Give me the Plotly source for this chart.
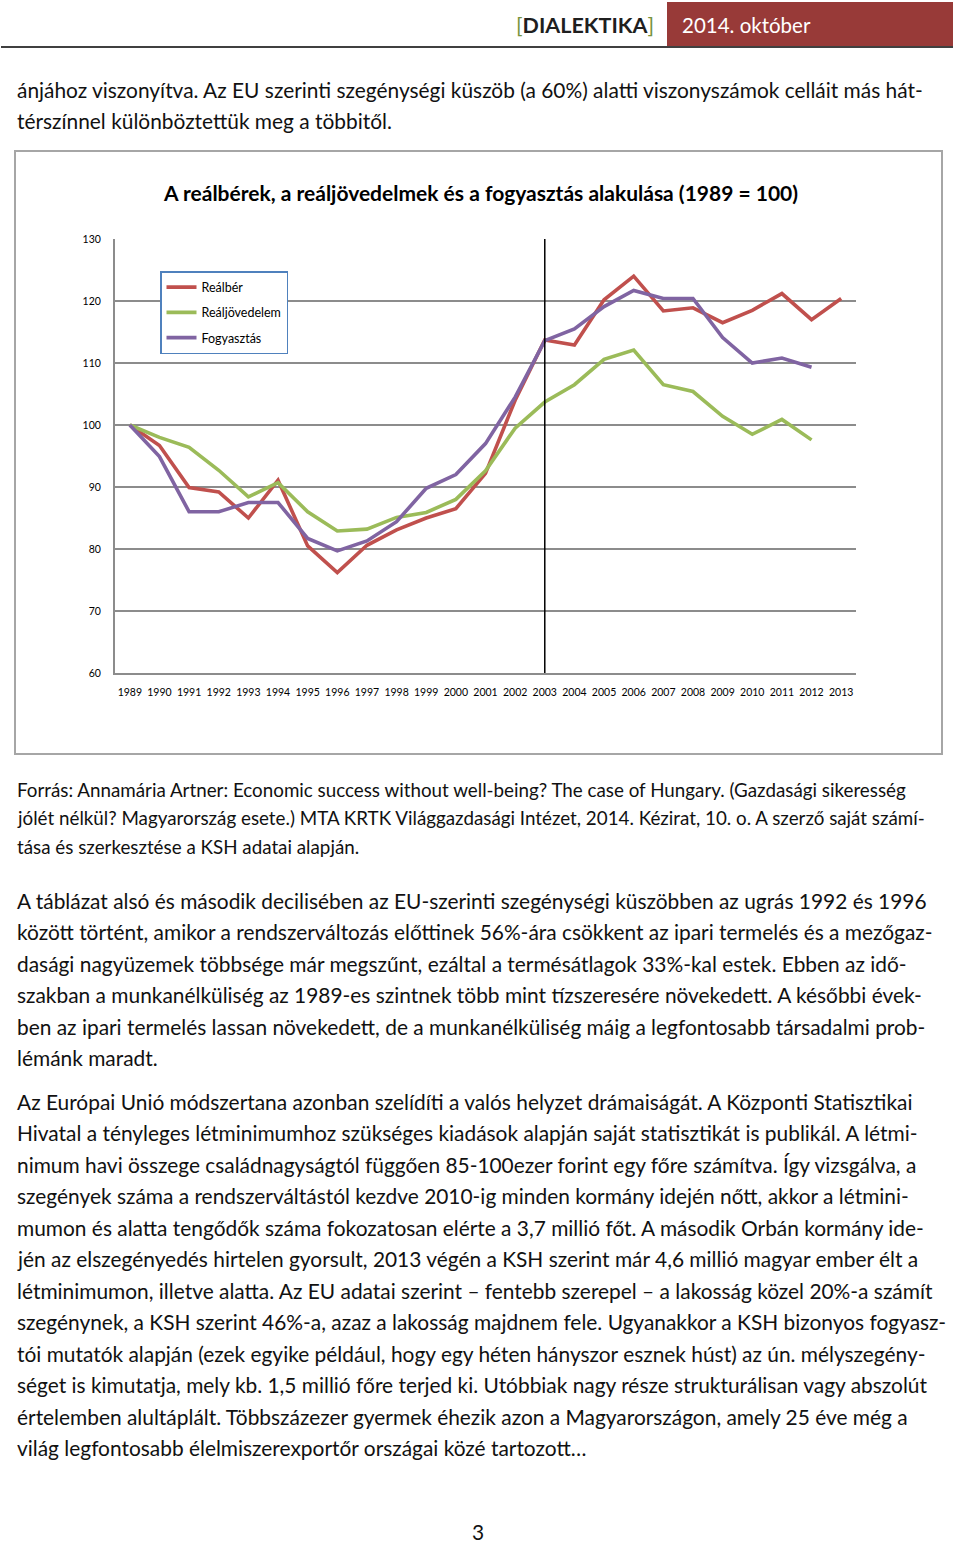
import plotly.graph_objects as go

# ---------------- data ----------------
YEARS = [str(y) for y in range(1989, 2014)]
REALBER = [100, 96.7, 89.9, 89.2, 85.0, 91.1, 80.5, 76.2, 80.6, 83.1, 85.0, 86.5,
           92.2, 104.0, 113.7, 112.9, 120.2, 124.0, 118.4, 118.9, 116.5, 118.5,
           121.2, 117.0, 120.4]
REALJOVEDELEM = [100, 98.0, 96.4, 92.7, 88.4, 90.7, 86.0, 82.9, 83.2, 85.1, 85.9, 88.0,
                 92.6, 99.5, 103.7, 106.5, 110.6, 112.1, 106.5, 105.4, 101.4, 98.5,
                 100.9, 97.6, None]
FOGYASZTAS = [100, 94.9, 86.0, 86.0, 87.5, 87.5, 81.7, 79.7, 81.3, 84.4, 89.8, 92.0,
              97.0, 104.5, 113.6, 115.5, 119.1, 121.7, 120.4, 120.4, 114.1, 110.0,
              110.8, 109.3, None]
SERIES_NAMES = ["Reálbér", "Reáljövedelem", "Fogyasztás"]
SERIES_COLORS = ["#C0504D", "#9BBB59", "#8064A2"]
Y_TICKS = [60, 70, 80, 90, 100, 110, 120, 130]
MARK_YEAR = "2003"

TITLE = "A reálbérek, a reáljövedelmek és a fogyasztás alakulása (1989 = 100)"
HEADER_LEFT = "DIALEKTIKA"
HEADER_RIGHT = "2014. október"
INTRO_LINES = [
    "ánjához viszonyítva. Az EU szerinti szegénységi küszöb (a 60%) alatti viszonyszámok celláit más hát-",
    "térszínnel különböztettük meg a többitől.",
]
SOURCE_LINES = [
    "Forrás: Annamária Artner: Economic success without well-being? The case of Hungary. (Gazdasági sikeresség",
    "jólét nélkül? Magyarország esete.) MTA KRTK Világgazdasági Intézet, 2014. Kézirat, 10. o. A szerző saját számí-",
    "tása és szerkesztése a KSH adatai alapján.",
]
PARA1_LINES = [
    "A táblázat alsó és második decilisében az EU-szerinti szegénységi küszöbben az ugrás 1992 és 1996",
    "között történt, amikor a rendszerváltozás előttinek 56%-ára csökkent az ipari termelés és a mezőgaz-",
    "dasági nagyüzemek többsége már megszűnt, ezáltal a termésátlagok 33%-kal estek. Ebben az idő-",
    "szakban a munkanélküliség az 1989-es szintnek több mint tízszeresére növekedett. A későbbi évek-",
    "ben az ipari termelés lassan növekedett, de a munkanélküliség máig a legfontosabb társadalmi prob-",
    "lémánk maradt.",
]
PARA2_LINES = [
    "Az Európai Unió módszertana azonban szelídíti a valós helyzet drámaiságát. A Központi Statisztikai",
    "Hivatal a tényleges létminimumhoz szükséges kiadások alapján saját statisztikát is publikál. A létmi-",
    "nimum havi összege családnagyságtól függően 85-100ezer forint egy főre számítva. Így vizsgálva, a",
    "szegények száma a rendszerváltástól kezdve 2010-ig minden kormány idején nőtt, akkor a létmini-",
    "mumon és alatta tengődők száma fokozatosan elérte a 3,7 millió főt. A második Orbán kormány ide-",
    "jén az elszegényedés hirtelen gyorsult, 2013 végén a KSH szerint már 4,6 millió magyar ember élt a",
    "létminimumon, illetve alatta. Az EU adatai szerint – fentebb szerepel – a lakosság közel 20%-a számít",
    "szegénynek, a KSH szerint 46%-a, azaz a lakosság majdnem fele. Ugyanakkor a KSH bizonyos fogyasz-",
    "tói mutatók alapján (ezek egyike például, hogy egy héten hányszor esznek húst) az ún. mélyszegény-",
    "séget is kimutatja, mely kb. 1,5 millió főre terjed ki. Utóbbiak nagy része strukturálisan vagy abszolút",
    "értelemben alultáplált. Többszázezer gyermek éhezik azon a Magyarországon, amely 25 éve még a",
    "világ legfontosabb élelmiszerexportőr országai közé tartozott…",
]
PAGE_NO = "3"

# ---------------- layout geometry (pixels) ----------------
W, H = 960, 1544
PL, PR, PT, PB = 115, 856, 239, 673   # plot area
FONT = "Lato, 'Open Sans', sans-serif"


def px(x):
    return (x - PL) / (PR - PL)


def py(y):
    return (PB - y) / (PB - PT)


fig = go.Figure()
for name, vals, col in zip(SERIES_NAMES, [REALBER, REALJOVEDELEM, FOGYASZTAS], SERIES_COLORS):
    fig.add_trace(go.Scatter(
        x=YEARS, y=vals, name=name, mode="lines",
        line=dict(color=col, width=3.6), legendgroup=name,
        connectgaps=False,
    ))

shapes = []
# header box and rule
shapes.append(dict(type="rect", xref="paper", yref="paper", x0=px(667), x1=px(953),
                   y0=py(47), y1=py(2), fillcolor="#983A38", line=dict(width=0), layer="below"))
shapes.append(dict(type="line", xref="paper", yref="paper", x0=px(1), x1=px(953),
                   y0=py(47), y1=py(47), line=dict(color="#404040", width=2)))
# chart border
shapes.append(dict(type="rect", xref="paper", yref="paper", x0=px(15), x1=px(942),
                   y0=py(754), y1=py(151), line=dict(color="#A6A6A6", width=2), layer="below"))
# vertical marker line at 2003
shapes.append(dict(type="line", xref="x", yref="paper", x0=YEARS.index(MARK_YEAR),
                   x1=YEARS.index(MARK_YEAR), y0=0, y1=1,
                   line=dict(color="#000000", width=1.5)))

ann = []
ann.append(dict(xref="paper", yref="paper", x=px(656), y=py(25), xanchor="right", yanchor="middle",
                showarrow=False,
                text="<span style='color:#77933C'>[</span><b>" + HEADER_LEFT +
                     "</b><span style='color:#77933C'>]</span>",
                font=dict(family=FONT, size=21.5, color="#1F1F1F")))
ann.append(dict(xref="paper", yref="paper", x=px(680), y=py(25), xanchor="left", yanchor="middle",
                showarrow=False, text=HEADER_RIGHT,
                font=dict(family=FONT, size=20.5, color="#FFFFFF")))
ann.append(dict(xref="paper", yref="paper", x=px(480), y=py(192), xanchor="center", yanchor="middle",
                showarrow=False, text="<b>" + TITLE + "</b>",
                font=dict(family=FONT, size=21, color="#000000")))


def add_lines(lines, y0, step, size):
    for i, t in enumerate(lines):
        ann.append(dict(xref="paper", yref="paper", x=px(15), y=py(y0 + i * step),
                        xanchor="left", yanchor="middle", showarrow=False, text=t,
                        font=dict(family=FONT, size=size, color="#111111")))


add_lines(INTRO_LINES, 89, 31.5, 20.9)
add_lines(SOURCE_LINES, 789, 28.5, 18.8)
add_lines(PARA1_LINES, 900, 31.5, 20.9)
add_lines(PARA2_LINES, 1101, 31.5, 20.9)
ann.append(dict(xref="paper", yref="paper", x=px(478), y=py(1531), xanchor="center", yanchor="middle",
                showarrow=False, text=PAGE_NO, font=dict(family=FONT, size=20.9, color="#111111")))

fig.update_layout(
    width=W, height=H, autosize=False,
    margin=dict(l=PL, r=W - PR, t=PT, b=H - PB, pad=0),
    paper_bgcolor="white", plot_bgcolor="white",
    font=dict(family=FONT, color="#000000"),
    shapes=shapes, annotations=ann,
    showlegend=True,
    legend=dict(x=px(160), y=py(271), xanchor="left", yanchor="top",
                bgcolor="white", bordercolor="#4F81BD", borderwidth=1.5,
                font=dict(family=FONT, size=12.5, color="#000000"),
                tracegroupgap=6, itemwidth=30, traceorder="grouped"),
    xaxis=dict(type="category", range=[-0.5, len(YEARS) - 0.5], showgrid=False,
               showline=True, linecolor="#8C8C8C", linewidth=2, ticks="",
               tickfont=dict(family=FONT, size=10.5, color="#000000"),
               ticklabelstandoff=8, fixedrange=True, tickangle=0),
    yaxis=dict(range=[Y_TICKS[0], Y_TICKS[-1]], tickvals=Y_TICKS, showgrid=True,
               gridcolor="#8C8C8C", gridwidth=2, zeroline=False,
               showline=True, linecolor="#8C8C8C", linewidth=2, ticks="",
               tickfont=dict(family=FONT, size=10.5, color="#000000"),
               ticklabelstandoff=10, fixedrange=True),
)

fig.write_html(
    "out.html",
    config={"displayModeBar": False},
    post_script="document.body.style.margin='0px';document.body.style.overflow='hidden';",
)
